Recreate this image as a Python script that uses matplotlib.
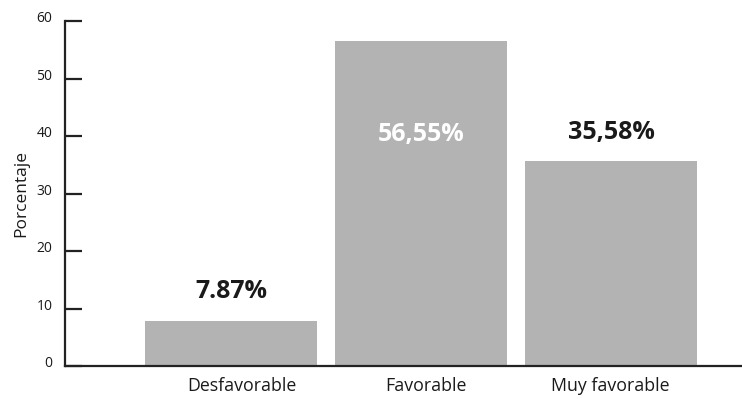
import numpy as np
import matplotlib
matplotlib.use("Agg")
import matplotlib.pyplot as plt
import matplotlib.transforms as mtransforms

plt.rcParams['font.family'] = ['Open Sans', 'DejaVu Sans']

CATEGORIES = ['Desfavorable', 'Favorable', 'Muy favorable']
VALUES = [7.87, 56.55, 35.58]
LABELS = ['7.87%', '56,55%', '35,58%']
INSIDE = [False, True, False]   # label drawn inside the bar (white)
YTICKS = [0, 10, 20, 30, 40, 50, 60]

BAR_COLOR = '#b3b3b3'
AXIS_COLOR = '#222222'
XLABEL_SHIFT = [11, 5, -1]   # horizontal nudge of category names, in pixels


def main():
    fig = plt.figure(figsize=(7.42, 3.99), dpi=100)
    ax = fig.add_axes([0.0876, 0.0827, 0.9124, 0.8646])

    x = np.arange(len(CATEGORIES))
    ax.bar(x, VALUES, width=0.905, color=BAR_COLOR, zorder=2)

    for xi, v, lab, inside in zip(x, VALUES, LABELS, INSIDE):
        if inside:
            ax.annotate(lab, (xi, v), xytext=(0, -72), textcoords='offset points',
                        ha='center', va='baseline', color='white',
                        fontsize=18, fontweight='bold', zorder=3)
        else:
            ax.annotate(lab, (xi, v), xytext=(0, 16.5), textcoords='offset points',
                        ha='center', va='baseline', color='#1a1a1a',
                        fontsize=18, fontweight='bold', zorder=3)

    ax.set_xlim(-0.874, 2.689)
    ax.set_ylim(0, 60)
    ax.set_xticks(x)
    ax.set_xticklabels(CATEGORIES, fontsize=12.8, color='#1a1a1a')
    ax.set_yticks(YTICKS)
    ax.set_yticklabels([str(t) for t in YTICKS], fontsize=10, color='#1a1a1a')
    ax.tick_params(axis='x', length=0, pad=8)
    ax.tick_params(axis='y', direction='in', length=12, width=1.6,
                   color=AXIS_COLOR, pad=9)

    for lbl, dx in zip(ax.get_xticklabels(), XLABEL_SHIFT):
        off = mtransforms.ScaledTranslation(dx / 100, 0, fig.dpi_scale_trans)
        lbl.set_transform(lbl.get_transform() + off)

    # nudge the y labels slightly upwards
    shift = mtransforms.ScaledTranslation(0, 3 / 72, fig.dpi_scale_trans)
    for lbl in ax.get_yticklabels():
        lbl.set_transform(lbl.get_transform() + shift)

    ax.set_ylabel('Porcentaje', fontsize=12.5, color='#1a1a1a', labelpad=5)

    for side in ['top', 'right']:
        ax.spines[side].set_visible(False)
    for side in ['left', 'bottom']:
        ax.spines[side].set_linewidth(1.6)
        ax.spines[side].set_color(AXIS_COLOR)

    fig.savefig('out.png', dpi=100)


if __name__ == "__main__":
    main()
